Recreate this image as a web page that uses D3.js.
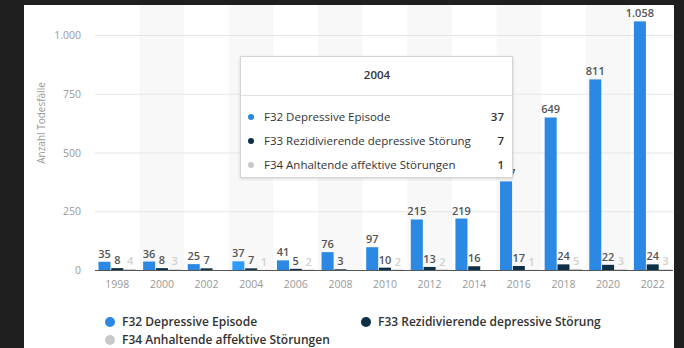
<!DOCTYPE html>
<meta charset="utf-8">
<style>
body { margin: 0; background: #1f1f1f; }
text { font-family: "Open Sans", sans-serif; }
.tick-label { fill: #999; font-size: 10.5px; }
.val { font-size: 11px; font-weight: 600; }
.legend text { fill: #333; font-size: 12px; font-weight: 600; }
.tip text { fill: #333; font-size: 11.5px; }
</style>
<body>
<svg width="684" height="348" id="chart"></svg>
<script src="https://d3js.org/d3.v7.min.js"></script>
<script>

var years = ["1998", "2000", "2002", "2004", "2006", "2008", "2010", "2012", "2014", "2016", "2018", "2020", "2022"];
var f32 = [35, 36, 25, 37, 41, 76, 97, 215, 219, 377, 649, 811, 1058];
var f33 = [8, 8, 7, 7, 5, 3, 10, 13, 16, 17, 24, 22, 24];
var f34 = [4, 3, null, 1, 2, null, 2, 2, null, 1, 5, 3, 3];
var seriesNames = ["F32 Depressive Episode", "F33 Rezidivierende depressive Störung", "F34 Anhaltende affektive Störungen"];
var seriesColors = ["#2b88e3", "#0d2f45", "#c8c8c8"];
var yTicks = [0, 250, 500, 750, 1000];
var hoverYear = "2004";

var svg = d3.select("svg");
var series = [f32, f33, f34];

var de = d3.formatLocale({decimal: ",", thousands: ".", grouping: [3], currency: ["", " €"]});
var fmt = de.format(",d");

// white panel
svg.append("rect").attr("x", 24).attr("y", 5).attr("width", 650).attr("height", 343).attr("fill", "#fff");

var x = d3.scaleBand().domain(years).range([95, 675]);
var x1 = d3.scaleBand().domain([0, 1, 2]).range([3.5, x.bandwidth() - 3.5]).paddingInner(0.06);
var y = d3.scaleLinear().domain([0, 1000]).range([270, 35]);

// alternating column shading
svg.append("g").selectAll("rect")
    .data(years.filter(function(d, i) { return i % 2 == 1; }))
    .enter().append("rect")
    .attr("x", function(d) { return x(d); })
    .attr("y", 5)
    .attr("width", x.bandwidth())
    .attr("height", y(0) - 5)
    .attr("fill", "#f8f8f8");

// grid
svg.append("g").selectAll("line")
    .data(yTicks.slice(1))
    .enter().append("line")
    .attr("x1", 95).attr("x2", 673)
    .attr("y1", function(d) { return y(d) + 0.5; })
    .attr("y2", function(d) { return y(d) + 0.5; })
    .attr("stroke", "#e6e6e6");

svg.append("g").selectAll("text")
    .data(yTicks)
    .enter().append("text")
    .attr("class", "tick-label")
    .attr("x", 81)
    .attr("y", function(d) { return y(d) + 4; })
    .attr("text-anchor", "end")
    .text(function(d) { return fmt(d); });

svg.append("text")
    .attr("transform", "translate(45,123) rotate(-90)")
    .attr("text-anchor", "middle")
    .attr("fill", "#999")
    .attr("font-size", "10px")
    .text("Anzahl Todesfälle");

// bars
var groups = svg.append("g").selectAll("g")
    .data(years)
    .enter().append("g")
    .attr("transform", function(d) { return "translate(" + x(d) + ",0)"; });

groups.each(function(yr, i) {
    var g = d3.select(this);
    series.forEach(function(s, k) {
        var v = s[i];
        if (v == null) return;
        var col = seriesColors[k];
        if (yr == hoverYear) col = d3.color(col).brighter(0.35).formatHex();
        g.append("rect")
            .attr("x", x1(k))
            .attr("y", y(v))
            .attr("width", x1.bandwidth())
            .attr("height", y(0) - y(v))
            .attr("fill", col);
        g.append("text")
            .attr("class", "val")
            .attr("x", x1(k) + x1.bandwidth() / 2)
            .attr("y", y(v) - 4)
            .attr("text-anchor", "middle")
            .attr("fill", k == 2 ? "#d0d0d0" : "#555")
            .text(fmt(v));
    });
});

// baseline
svg.append("line")
    .attr("x1", 95).attr("x2", 673)
    .attr("y1", y(0) + 0.5).attr("y2", y(0) + 0.5)
    .attr("stroke", "#555");

svg.append("g").selectAll("text")
    .data(years)
    .enter().append("text")
    .attr("class", "tick-label")
    .attr("x", function(d) { return x(d) + x.bandwidth() / 2; })
    .attr("y", 288)
    .attr("text-anchor", "middle")
    .text(function(d) { return d; });

// legend
var legendPos = [[110, 322], [366, 322], [110, 340]];
var legend = svg.append("g").attr("class", "legend");
seriesNames.forEach(function(n, k) {
    legend.append("circle")
        .attr("cx", legendPos[k][0]).attr("cy", legendPos[k][1])
        .attr("r", 5).attr("fill", seriesColors[k]);
    legend.append("text")
        .attr("x", legendPos[k][0] + 12).attr("y", legendPos[k][1] + 4)
        .text(n);
});

// tooltip
var defs = svg.append("defs");
var sh = defs.append("filter").attr("id", "shadow").attr("x", "-10%").attr("y", "-10%").attr("width", "120%").attr("height", "130%");
sh.append("feDropShadow").attr("dx", 0).attr("dy", 1).attr("stdDeviation", 1.5).attr("flood-opacity", 0.15);

var idx = years.indexOf(hoverYear);
var tip = svg.append("g").attr("class", "tip");
tip.append("rect")
    .attr("x", 240.5).attr("y", 56.5).attr("width", 272).attr("height", 121)
    .attr("fill", "#fff").attr("stroke", "#d4d4d4").attr("filter", "url(#shadow)");
tip.append("line")
    .attr("x1", 241).attr("x2", 512).attr("y1", 95.5).attr("y2", 95.5)
    .attr("stroke", "#e2e2e2");
tip.append("text")
    .attr("x", 377).attr("y", 79)
    .attr("text-anchor", "middle")
    .attr("font-size", "12px").attr("font-weight", 600)
    .text(hoverYear);
seriesNames.forEach(function(n, k) {
    var ry = 117 + k * 24;
    tip.append("circle").attr("cx", 251).attr("cy", ry).attr("r", 3).attr("fill", seriesColors[k]);
    tip.append("text").attr("x", 264).attr("y", ry + 4).text(n);
    tip.append("text").attr("x", 504).attr("y", ry + 4)
        .attr("text-anchor", "end").attr("font-weight", 600)
        .text(fmt(series[k][idx]));
});

</script>
</body>
